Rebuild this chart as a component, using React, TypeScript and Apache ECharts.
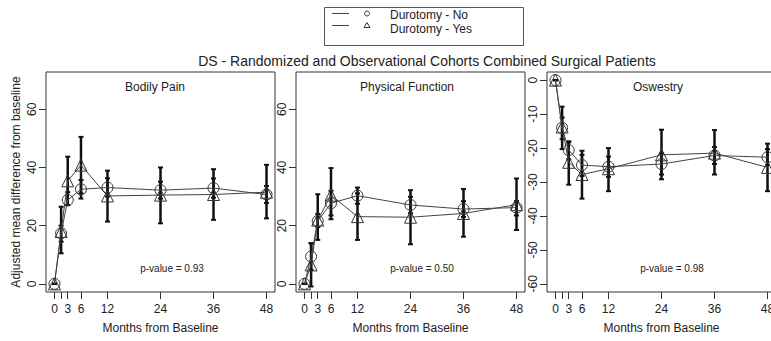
import React, { useEffect, useRef } from "react";
import * as echarts from "echarts";

const months = [0, 1.5, 3, 6, 12, 24, 36, 48];
const tickMonths = [0, 1.5, 3, 6, 12, 24, 36, 48];
const labelMonths = [0, 3, 6, 12, 24, 36, 48];

const panelTitles = ["Bodily Pain", "Physical Function", "Oswestry"];
const pValues = ["p-value = 0.93", "p-value = 0.50", "p-value = 0.98"];

// Bodily Pain
const bpNo = [0, 17.4, 28.8, 32.5, 33.1, 32.2, 32.9, 30.7];
const bpNoLow = [0, 14.5, 27.0, 29.3, 30.0, 29.3, 29.6, 27.8];
const bpNoHigh = [0, 20.0, 31.5, 35.7, 36.3, 35.1, 36.2, 33.6];
const bpYes = [0, 18.0, 35.4, 40.8, 30.2, 30.5, 30.7, 31.5];
const bpYesLow = [0, 10.5, 27.1, 31.1, 21.4, 20.8, 22.0, 22.5];
const bpYesHigh = [0, 26.5, 43.7, 50.5, 38.9, 40.0, 39.4, 40.9];

// Physical Function
const pfNo = [0, 9.4, 21.6, 27.7, 30.3, 27.1, 25.7, 26.2];
const pfNoLow = [0, 4.8, 19.5, 23.5, 27.5, 24.3, 23.0, 23.5];
const pfNoHigh = [0, 14.0, 24.0, 32.0, 33.1, 29.9, 28.4, 28.5];
const pfYes = [0, 6.5, 21.9, 30.5, 23.1, 22.9, 24.2, 27.2];
const pfYesLow = [0, -0.9, 15.1, 22.2, 15.1, 13.6, 16.2, 18.5];
const pfYesHigh = [0, 13.9, 30.8, 39.8, 31.1, 32.2, 32.6, 36.2];

// Oswestry
const odiNo = [0, -14.0, -20.6, -25.0, -25.5, -24.7, -22.2, -22.7];
const odiNoLow = [0, -17.4, -23.3, -28.2, -28.5, -27.8, -24.7, -25.0];
const odiNoHigh = [0, -11.0, -18.0, -22.0, -22.5, -21.6, -19.7, -20.3];
const odiYes = [0, -13.8, -24.2, -27.8, -26.1, -22.0, -21.5, -25.7];
const odiYesLow = [0, -20.3, -30.8, -34.9, -32.7, -29.2, -27.8, -32.7];
const odiYesHigh = [0, -7.8, -18.3, -20.8, -20.0, -14.6, -14.7, -18.7];

const yTicksPos = [0, 20, 40, 60];
const yTicksNeg = [0, -10, -20, -30, -40, -50, -60];

const FONT = "Liberation Sans, Arial, Helvetica, sans-serif";
const INK = "#222";

export default function App() {
  const ref = useRef<HTMLDivElement>(null);

  useEffect(() => {
    if (!ref.current) return;
    const chart = echarts.init(ref.current, undefined, { renderer: "svg" });

    const panels = [
      { no: bpNo, noL: bpNoLow, noH: bpNoHigh, yes: bpYes, yesL: bpYesLow, yesH: bpYesHigh, min: -2.8, max: 72.8, ticks: yTicksPos },
      { no: pfNo, noL: pfNoLow, noH: pfNoHigh, yes: pfYes, yesL: pfYesLow, yesH: pfYesHigh, min: -2.8, max: 72.8, ticks: yTicksPos },
      { no: odiNo, noL: odiNoLow, noH: odiNoHigh, yes: odiYes, yesL: odiYesLow, yesH: odiYesHigh, min: -62.4, max: 2.4, ticks: yTicksNeg },
    ];

    const gridLefts = [46, 296, 547];
    const gridWidth = 229;

    const grids = gridLefts.map((l) => ({
      left: l,
      top: 72,
      width: gridWidth,
      height: 220,
      show: true,
      borderColor: "#333",
      borderWidth: 1,
      backgroundColor: "transparent",
    }));

    const xAxes = panels.map((_, i) => ({
      type: "value",
      gridIndex: i,
      position: "bottom",
      min: -1.92,
      max: 49.92,
      axisLine: { show: false, onZero: false },
      splitLine: { show: false },
      axisTick: {
        show: true,
        inside: false,
        length: 7,
        customValues: tickMonths,
        lineStyle: { color: "#333", width: 1 },
      },
      axisLabel: {
        customValues: labelMonths,
        margin: 11,
        color: INK,
        fontSize: 12,
        fontFamily: FONT,
      },
      name: "Months from Baseline",
      nameLocation: "middle",
      nameGap: 30,
      nameTextStyle: { color: INK, fontSize: 12, fontFamily: FONT },
    }));

    const yAxes = panels.map((p, i) => ({
      type: "value",
      gridIndex: i,
      position: "left",
      min: p.min,
      max: p.max,
      axisLine: { show: false, onZero: false },
      splitLine: { show: false },
      axisTick: {
        show: true,
        inside: false,
        length: 7,
        customValues: p.ticks,
        lineStyle: { color: "#333", width: 1 },
      },
      axisLabel: {
        customValues: p.ticks,
        rotate: 90,
        margin: 8,
        color: INK,
        fontSize: 12,
        fontFamily: FONT,
      },
      name: i === 0 ? "Adjusted mean difference from baseline" : "",
      nameLocation: "middle",
      nameGap: 24,
      nameTextStyle: { color: INK, fontSize: 12, fontFamily: FONT },
    }));

    const series: any[] = [];
    const errSeries = (low: number[], high: number[], idx: number) => ({
      type: "custom",
      xAxisIndex: idx,
      yAxisIndex: idx,
      z: 3,
      silent: true,
      data: months.map((m, k) => [m, low[k], high[k]]),
      renderItem: (params: any, api: any) => {
        const x = api.value(0);
        const lo = api.coord([x, api.value(1)]);
        const hi = api.coord([x, api.value(2)]);
        const cap = 2.5;
        const style = { stroke: "#111", lineWidth: 2.5, fill: "none" };
        return {
          type: "group",
          children: [
            { type: "line", shape: { x1: lo[0], y1: lo[1], x2: hi[0], y2: hi[1] }, style },
            { type: "line", shape: { x1: lo[0] - cap, y1: lo[1], x2: lo[0] + cap, y2: lo[1] }, style: { ...style, lineWidth: 2 } },
            { type: "line", shape: { x1: hi[0] - cap, y1: hi[1], x2: hi[0] + cap, y2: hi[1] }, style: { ...style, lineWidth: 2 } },
          ],
        };
      },
    });

    panels.forEach((p, i) => {
      series.push(errSeries(p.noL, p.noH, i));
      series.push(errSeries(p.yesL, p.yesH, i));
      series.push({
        type: "line",
        name: "Durotomy - No",
        xAxisIndex: i,
        yAxisIndex: i,
        z: 4,
        data: months.map((m, k) => [m, p.no[k]]),
        symbol: "circle",
        symbolSize: 11,
        showAllSymbol: true,
        lineStyle: { color: "#444", width: 1 },
        itemStyle: { color: "rgba(0,0,0,0)", borderColor: "#333", borderWidth: 1 },
      });
      series.push({
        type: "line",
        name: "Durotomy - Yes",
        xAxisIndex: i,
        yAxisIndex: i,
        z: 4,
        data: months.map((m, k) => [m, p.yes[k]]),
        symbol: "triangle",
        symbolSize: 12,
        showAllSymbol: true,
        lineStyle: { color: "#444", width: 1 },
        itemStyle: { color: "rgba(0,0,0,0)", borderColor: "#333", borderWidth: 1 },
      });
    });

    const titleXs = [155, 407, 658];
    const pXs = [172, 422, 672];

    const graphics: any[] = [
      {
        type: "text",
        x: 427,
        y: 61,
        style: {
          text: "DS - Randomized and Observational Cohorts Combined Surgical Patients",
          font: `14px ${FONT}`,
          fill: INK,
          align: "center",
          verticalAlign: "middle",
        },
      },
      {
        type: "rect",
        shape: { x: 324.5, y: 7.5, width: 199, height: 38 },
        style: { fill: "none", stroke: "#555", lineWidth: 1 },
      },
      { type: "line", shape: { x1: 332, y1: 13.5, x2: 349, y2: 13.5 }, style: { stroke: "#444", lineWidth: 1 } },
      { type: "line", shape: { x1: 332, y1: 25.5, x2: 349, y2: 25.5 }, style: { stroke: "#444", lineWidth: 1 } },
      { type: "circle", shape: { cx: 367, cy: 13.5, r: 2.5 }, style: { fill: "none", stroke: "#333", lineWidth: 1 } },
      {
        type: "polygon",
        shape: { points: [[367, 22.5], [364, 27.5], [370, 27.5]] },
        style: { fill: "none", stroke: "#333", lineWidth: 1 },
      },
      {
        type: "text",
        x: 390,
        y: 15,
        style: { text: "Durotomy - No", font: `12px ${FONT}`, fill: INK, verticalAlign: "middle" },
      },
      {
        type: "text",
        x: 390,
        y: 28.5,
        style: { text: "Durotomy - Yes", font: `12px ${FONT}`, fill: INK, verticalAlign: "middle" },
      },
    ];
    panelTitles.forEach((t, i) => {
      graphics.push({
        type: "text",
        x: titleXs[i],
        y: 87,
        style: { text: t, font: `12px ${FONT}`, fill: INK, align: "center", verticalAlign: "middle" },
      });
      graphics.push({
        type: "text",
        x: pXs[i],
        y: 268,
        style: { text: pValues[i], font: `10px ${FONT}`, fill: INK, align: "center", verticalAlign: "middle" },
      });
    });

    chart.setOption({
      animation: false,
      backgroundColor: "#fff",
      grid: grids,
      xAxis: xAxes,
      yAxis: yAxes,
      series,
      graphic: graphics,
    });

    return () => chart.dispose();
  }, []);

  return (
    <div style={{ position: "fixed", left: 0, top: 0, width: 771, height: 341, overflow: "hidden", background: "#fff" }}>
      <div ref={ref} style={{ width: 790, height: 341 }} />
    </div>
  );
}
